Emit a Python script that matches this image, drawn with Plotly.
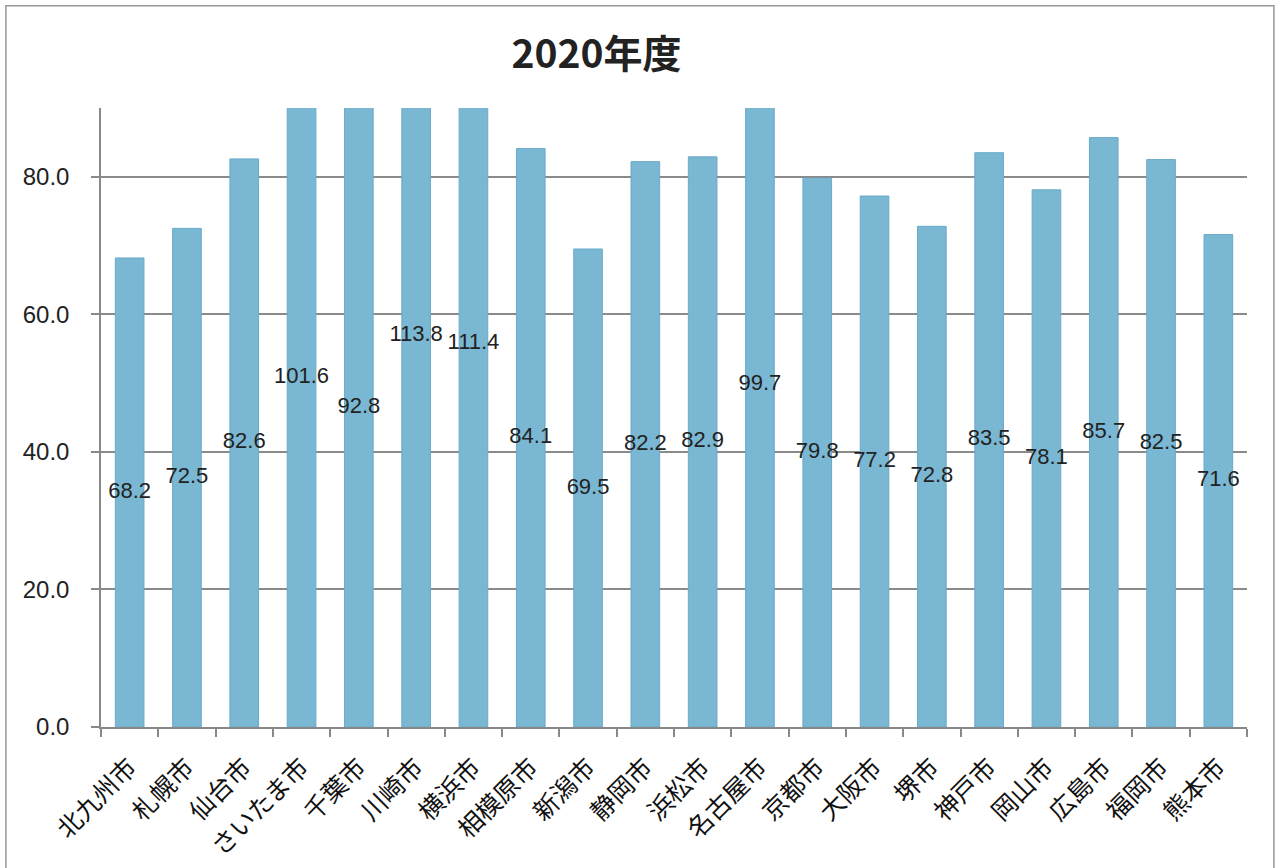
import plotly.graph_objects as go

cities = ["北九州市", "札幌市", "仙台市", "さいたま市", "千葉市", "川崎市", "横浜市", "相模原市",
          "新潟市", "静岡市", "浜松市", "名古屋市", "京都市", "大阪市", "堺市", "神戸市",
          "岡山市", "広島市", "福岡市", "熊本市"]
values = [68.2, 72.5, 82.6, 101.6, 92.8, 113.8, 111.4, 84.1, 69.5, 82.2,
          82.9, 99.7, 79.8, 77.2, 72.8, 83.5, 78.1, 85.7, 82.5, 71.6]
title_text = "2020年度"
y_ticks = [0, 20, 40, 60, 80]

label_font = dict(family="Liberation Sans, Arial, sans-serif", size=22, color="#222222")

fig = go.Figure()
fig.add_trace(go.Bar(
    x=cities, y=values,
    marker=dict(color="#7ab7d3", line=dict(color="#69abc9", width=1)),
    hoverinfo="x+y",
))
fig.add_trace(go.Scatter(
    x=cities, y=[v / 2 for v in values],
    mode="text", text=[f"{v:.1f}" for v in values],
    textfont=label_font, textposition="middle center",
    cliponaxis=False, hoverinfo="skip",
))

fig.update_layout(
    width=1276, height=868,
    margin=dict(l=101, r=29, t=108, b=141, autoexpand=False),
    paper_bgcolor="white", plot_bgcolor="white",
    showlegend=False, bargap=0.5,
    title=dict(text="<b>" + title_text + "</b>", x=0.4675, xanchor="center", y=0.937, yanchor="middle",
               font=dict(family="Noto Sans CJK JP", size=39, color="#222222")),
    xaxis=dict(
        range=[-0.5, len(cities) - 0.5],
        tickangle=-45, tickfont=dict(family="Noto Sans CJK JP", size=25, color="#111111"),
        showline=True, linecolor="#888888", linewidth=1.5,
        ticks="outside", tickson="boundaries", ticklen=8, tickcolor="#888888", tickwidth=1.5,
        ticklabelstandoff=14, automargin=False,
        showgrid=False,
    ),
    yaxis=dict(
        range=[0, 90], tickvals=y_ticks, ticktext=[f"{t:.1f}" for t in y_ticks],
        tickfont=dict(family="Liberation Sans, Arial, sans-serif", size=24, color="#222222"),
        showline=True, linecolor="#888888", linewidth=1.5,
        ticks="outside", ticklen=8, tickcolor="#888888", tickwidth=1.5,
        ticklabelstandoff=17, automargin=False,
        showgrid=True, gridcolor="#8a8a8a", gridwidth=1.5, zeroline=False,
    ),
    shapes=[dict(type="rect", xref="paper", yref="paper",
                 x0=-0.083, x1=1.0235, y0=-0.3, y1=1.165,
                 line=dict(color="#999999", width=1.5), layer="below")],
)

fig.write_html("out.html", config={"displayModeBar": False},
               post_script="document.body.style.margin='0';document.body.style.overflow='hidden';")
